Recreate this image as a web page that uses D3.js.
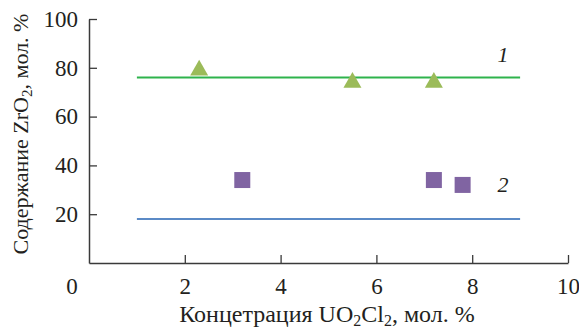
<html>
<head>
<meta charset="utf-8">
<script src="https://d3js.org/d3.v7.min.js"></script>
<style>
body {margin:0; background:#fff;}
text {font-family: "Liberation Serif", "Times New Roman", serif; fill:#231f20;}
</style>
</head>
<body>
<svg width="579" height="328"></svg>
<script>
// data
var triX = [2.3, 5.5, 7.2];
var triY = [79, 74, 74];
var sqX = [3.2, 7.2, 7.8];
var sqY = [34, 34, 32];
var line1 = [[1, 76], [9, 76]];
var line2 = [[1, 18], [9, 18]];
var xTicks = [2, 4, 6, 8, 10];
var yTicks = [20, 40, 60, 80, 100];

var svg = d3.select("svg");
var x = d3.scaleLinear().domain([0, 10]).range([89, 568]);
var y = d3.scaleLinear().domain([0, 100]).range([263, 19]);

var axisColor = "#3a3a3a";

var xAxis = d3.axisBottom(x).tickValues(xTicks).tickSizeInner(-8).tickSizeOuter(0);
var yAxis = d3.axisLeft(y).tickValues(yTicks).tickSizeInner(-8).tickSizeOuter(0);

var gx = svg.append("g").attr("transform", "translate(0," + y(0) + ")").call(xAxis);
var gy = svg.append("g").attr("transform", "translate(" + x(0) + ",0)").call(yAxis);
[gx, gy].forEach(function(g) {
  g.attr("font-family", null).attr("font-size", null);
  g.select(".domain").attr("stroke", axisColor).attr("stroke-width", 1.5);
  g.selectAll(".tick line").attr("stroke", axisColor).attr("stroke-width", 1.3);
  g.selectAll("text").style("font-size", "23px").attr("fill", "#231f20");
});
gx.selectAll("text").attr("dy", 0).attr("y", 31);
gy.selectAll("text").attr("x", -11);

// shared zero
svg.append("text").attr("x", 72).attr("y", 294).attr("text-anchor", "middle")
  .style("font-size", "23px").text("0");

var line = d3.line().x(function(d){return x(d[0]);}).y(function(d){return y(d[1]);});
svg.append("path").datum(line1).attr("d", line).attr("stroke", "#2fb34c").attr("stroke-width", 2).attr("fill", "none");
svg.append("path").datum(line2).attr("d", line).attr("stroke", "#5b8ac6").attr("stroke-width", 2).attr("fill", "none");

svg.selectAll(".tri").data(triX).enter().append("path")
  .attr("transform", function(d, i){return "translate(" + x(d) + "," + y(triY[i]) + ")";})
  .attr("d", d3.symbol().type(d3.symbolTriangle).size(140))
  .attr("fill", "#9bbb59");

svg.selectAll(".sq").data(sqX).enter().append("rect")
  .attr("x", function(d){return x(d) - 8;})
  .attr("y", function(d, i){return y(sqY[i]) - 8;})
  .attr("width", 16).attr("height", 16)
  .attr("fill", "#8064a2");

svg.append("text").attr("x", 503).attr("y", 62).attr("text-anchor", "middle")
  .style("font-size", "22px").style("font-style", "italic").text("1");
svg.append("text").attr("x", 503).attr("y", 192).attr("text-anchor", "middle")
  .style("font-size", "22px").style("font-style", "italic").text("2");

// axis titles
var xt = svg.append("text").attr("x", 327).attr("y", 322).attr("text-anchor", "middle").style("font-size", "24px");
xt.append("tspan").text("Концетрация UO");
xt.append("tspan").attr("baseline-shift", "-25%").style("font-size", "16px").text("2");
xt.append("tspan").text("Cl");
xt.append("tspan").attr("baseline-shift", "-25%").style("font-size", "16px").text("2");
xt.append("tspan").text(", мол. %");

var yt = svg.append("text").attr("transform", "translate(28,134) rotate(-90)").attr("text-anchor", "middle").style("font-size", "22px");
yt.append("tspan").text("Содержание ZrO");
yt.append("tspan").attr("baseline-shift", "-25%").style("font-size", "15px").text("2");
yt.append("tspan").text(", мол. %");
</script>
</body>
</html>
